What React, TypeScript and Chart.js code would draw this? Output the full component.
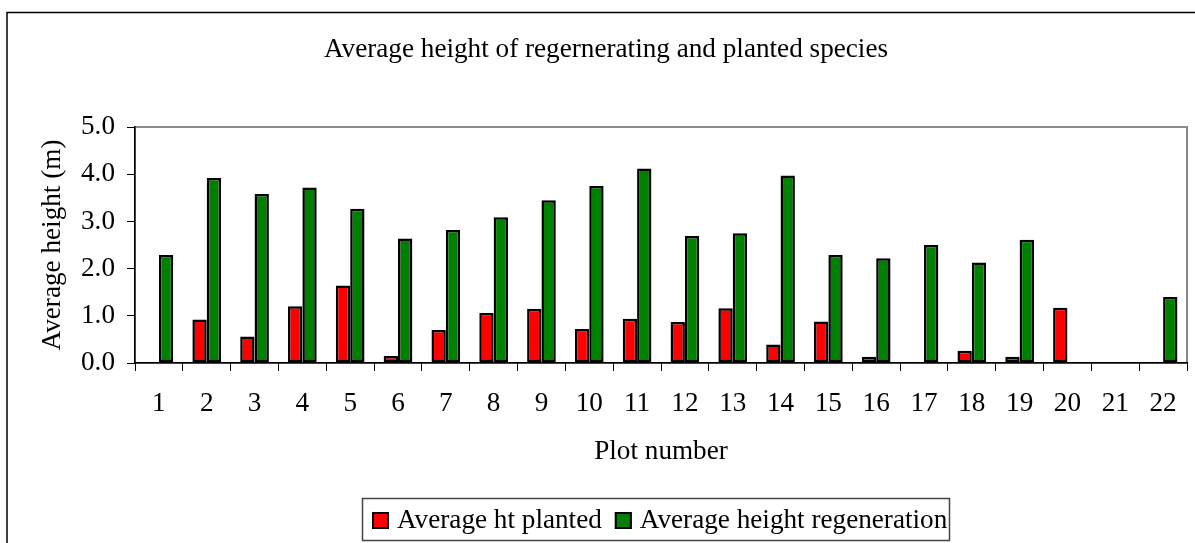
import React, { useEffect, useRef } from "react";
import { Chart, registerables } from "chart.js";

Chart.register(...registerables);

const TITLE = "Average height of regernerating and planted species";
const Y_TITLE = "Average height (m)";
const X_TITLE = "Plot number";

const plots = [
  "1", "2", "3", "4", "5", "6", "7", "8", "9", "10", "11",
  "12", "13", "14", "15", "16", "17", "18", "19", "20", "21", "22",
];

const plantedLabel = "Average ht planted";
const planted = [
  null, 0.92, 0.56, 1.2, 1.64, 0.15, 0.7, 1.06, 1.15, 0.72, 0.94,
  0.87, 1.16, 0.39, 0.88, 0.13, null, 0.26, 0.13, 1.17, null, null,
];

const regenLabel = "Average height regeneration";
const regeneration = [
  2.29, 3.92, 3.58, 3.72, 3.27, 2.64, 2.82, 3.09, 3.45, 3.75, 4.12,
  2.69, 2.75, 3.97, 2.29, 2.22, 2.5, 2.13, 2.61, null, null, 1.4,
];

const yTicks = [0, 1, 2, 3, 4, 5];

const FONT = "'Liberation Serif', 'Times New Roman', serif";
const FS = 27.2;

const framePlugin = {
  id: "framePlugin",
  beforeDraw(chart: any) {
    const { ctx, chartArea } = chart;
    ctx.save();
    ctx.strokeStyle = "#000";
    ctx.lineWidth = 1.5;
    ctx.beginPath();
    ctx.moveTo(7, 543);
    ctx.lineTo(7, 12.5);
    ctx.lineTo(1195, 12.5);
    ctx.stroke();
    ctx.strokeStyle = "#888";
    ctx.lineWidth = 2;
    ctx.strokeRect(
      chartArea.left,
      chartArea.top,
      chartArea.right - chartArea.left,
      chartArea.bottom - chartArea.top
    );
    ctx.fillStyle = "#000";
    ctx.font = `${FS}px ${FONT}`;
    ctx.textAlign = "center";
    ctx.textBaseline = "alphabetic";
    ctx.fillText(TITLE, 606, 57);
    ctx.restore();
  },
  afterDraw(chart: any) {
    const { ctx } = chart;
    ctx.save();
    ctx.font = `${FS}px ${FONT}`;
    ctx.textBaseline = "alphabetic";
    ctx.textAlign = "left";
    ctx.strokeStyle = "#444";
    ctx.lineWidth = 1.5;
    ctx.strokeRect(362.5, 498.5, 587, 42);
    let x = 372;
    chart.data.datasets.forEach((ds: any) => {
      ctx.fillStyle = ds.backgroundColor;
      ctx.fillRect(x, 512, 17, 17);
      ctx.strokeStyle = "#000";
      ctx.lineWidth = 2;
      ctx.strokeRect(x + 1, 513, 15, 15);
      ctx.fillStyle = "#000";
      ctx.fillText(ds.label, x + 25, 527.5);
      x += 25 + ctx.measureText(ds.label).width + 13;
    });
    ctx.restore();
  },
};

export default function App() {
  const ref = useRef<HTMLCanvasElement>(null);

  useEffect(() => {
    if (!ref.current) return;
    const chart = new Chart(ref.current, {
      type: "bar",
      data: {
        labels: plots,
        datasets: [
          {
            label: plantedLabel,
            data: planted,
            backgroundColor: "#FF0000",
            borderColor: "#000",
            borderWidth: 2.5,
            borderSkipped: false,
            categoryPercentage: 0.6,
            barPercentage: 1,
          },
          {
            label: regenLabel,
            data: regeneration,
            backgroundColor: "#008000",
            borderColor: "#000",
            borderWidth: 2.5,
            borderSkipped: false,
            categoryPercentage: 0.6,
            barPercentage: 1,
          },
        ],
      } as any,
      options: {
        responsive: false,
        animation: false,
        devicePixelRatio: 1,
        layout: { padding: { left: 0, top: 127, right: 8, bottom: 70 } },
        plugins: {
          legend: { display: false },
          title: { display: false },
          tooltip: { enabled: false },
        },
        scales: {
          x: {
            offset: true,
            grid: {
              offset: true,
              drawOnChartArea: false,
              drawTicks: true,
              tickLength: 8,
              color: "#000",
              lineWidth: 1,
            },
            border: { display: true, color: "#000", width: 1.5 },
            ticks: {
              color: "#000",
              padding: 17,
              font: { family: FONT, size: FS },
              maxRotation: 0,
              autoSkip: false,
            },
            title: {
              display: true,
              text: X_TITLE,
              color: "#000",
              font: { family: FONT, size: FS },
              padding: { top: 0, bottom: 5 },
            },
            afterFit: (s: any) => {
              s.height = 110;
            },
          },
          y: {
            min: 0,
            max: 5,
            afterBuildTicks: (s: any) => {
              s.ticks = yTicks.map((v) => ({ value: v }));
            },
            grid: {
              drawOnChartArea: false,
              drawTicks: true,
              tickLength: 8,
              color: "#000",
              lineWidth: 1,
            },
            border: { display: true, color: "#000", width: 1.5 },
            ticks: {
              color: "#000",
              padding: 12,
              font: { family: FONT, size: FS },
              callback: (v: any) => Number(v).toFixed(1),
            },
            title: {
              display: true,
              text: Y_TITLE,
              color: "#000",
              font: { family: FONT, size: FS },
              padding: { top: 37, bottom: 0 },
            },
            afterFit: (s: any) => {
              s.width = 135;
            },
          },
        },
      },
      plugins: [framePlugin],
    });
    return () => chart.destroy();
  }, []);

  return (
    <canvas
      ref={ref}
      width={1195}
      height={543}
      style={{ position: "absolute", left: 0, top: 0, width: 1195, height: 543 }}
    />
  );
}
